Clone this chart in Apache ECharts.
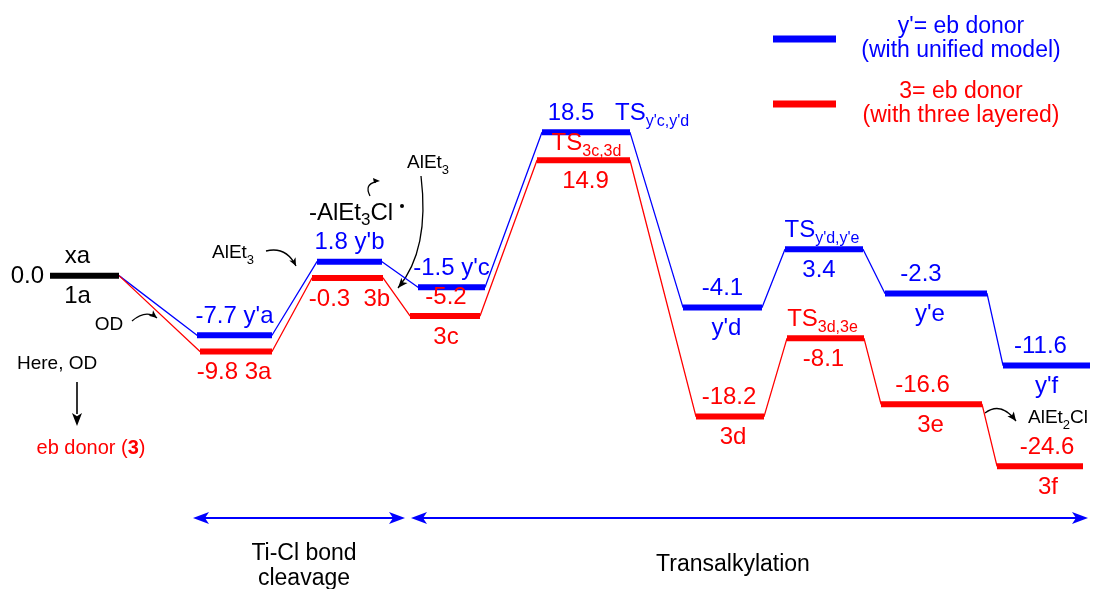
<!DOCTYPE html>
<html>
<head>
<meta charset="utf-8">
<script src="https://cdn.jsdelivr.net/npm/echarts@6/dist/echarts.min.js"></script>
<style>
  html, body { margin: 0; padding: 0; background: #fff; }
  #chart { width: 1097px; height: 589px; }
</style>
</head>
<body>
<div id="chart"></div>
<script>
// Free-energy profile (kcal/mol) of the two electron-donor models
const startNames = ['xa', '1a'];
const startEnergy = 0.0;

const blueStates = ["y'a", "y'b", "y'c", "TS_y'c,y'd", "y'd", "TS_y'd,y'e", "y'e", "y'f"];
const blueEnergy = [-7.7, 1.8, -1.5, 18.5, -4.1, 3.4, -2.3, -11.6];

const redStates = ["3a", "3b", "3c", "TS_3c,3d", "3d", "TS_3d,3e", "3e", "3f"];
const redEnergy = [-9.8, -0.3, -5.2, 14.9, -18.2, -8.1, -16.6, -24.6];

const legendNames = ["y'= eb donor\n(with unified model)", "3= eb donor\n(with three layered)"];
const stageNames = ['Ti-Cl bond\ncleavage', 'Transalkylation'];

// ---- layout: reaction-coordinate span of each level and where its labels go ----
const FONT = "'Liberation Sans', Arial, Helvetica, sans-serif";
const BLUE = '#0000ff', RED = '#ff0000', BLACK = '#000000';
const ABOVE = 19, BELOW = 21;

const startLayout = { span: [50, 119] };
const blueLayout = [
  { span: [197, 272], top: 'vn' },
  { span: [317, 382], top: 'vn' },
  { span: [418, 485], top: 'vn' },
  { span: [542, 630], top: 'v', topDx: -15, side: 'n' },
  { span: [683, 762], top: 'v', bottom: 'n', botDx: 4 },
  { span: [785, 863], top: 'n', bottom: 'v', topDx: -2, botDx: -5 },
  { span: [885, 987], top: 'v', bottom: 'n', topDx: -15, botDx: -6 },
  { span: [1003, 1090], top: 'v', bottom: 'n', topDx: -6 }
];
const redLayout = [
  { span: [200, 272], bottom: 'vn', botDx: -2 },
  { span: [312, 383], bottom: 'vn', botDx: 2, gap: '  ' },
  { span: [410, 480], top: 'v', bottom: 'n', topDx: 1, botDx: 1 },
  { span: [537, 630], top: 'n', bottom: 'v', topDx: 3, botDx: 2, topGap: 17 },
  { span: [696, 764], top: 'v', bottom: 'n', topDx: -1, botDx: 3 },
  { span: [787, 864], top: 'n', bottom: 'v', topDx: -3, botDx: -2 },
  { span: [881, 982], top: 'v', bottom: 'n', topDx: -9, botDx: -1 },
  { span: [997, 1083], top: 'v', bottom: 'n', topDx: 7, botDx: 8 }
];

// main text sits in the middle of a tall line, subscripts hang at its bottom
function richStyles(color) {
  return {
    b: { fill: color, fontSize: 24, lineHeight: 32, fontFamily: FONT, verticalAlign: 'middle' },
    s: { fill: color, fontSize: 16, lineHeight: 16, fontFamily: FONT, verticalAlign: 'bottom' }
  };
}
function richName(n) {
  const k = n.indexOf('_');
  return k < 0 ? '{b|' + n + '}' : '{b|' + n.slice(0, k) + '}{s|' + n.slice(k + 1) + '}';
}
function piece(kind, name, value, gap) {
  const v = value.toFixed(1);
  if (kind === 'v') return '{b|' + v + '}';
  if (kind === 'n') return richName(name);
  return '{b|' + v + (gap || ' ') + name + '}';
}

function levelSeries(name, color, states, energies, layout) {
  return {
    type: 'custom',
    name: name,
    coordinateSystem: 'cartesian2d',
    itemStyle: { color: color },
    encode: { x: [0, 1], y: 2 },
    z: 3,
    silent: true,
    data: energies.map((e, i) => [layout[i].span[0], layout[i].span[1], e]),
    renderItem: function (params, api) {
      const i = params.dataIndex;
      const L = layout[i];
      const e = api.value(2);
      const p0 = api.coord([api.value(0), e]);
      const p1 = api.coord([api.value(1), e]);
      const cx = (p0[0] + p1[0]) / 2;
      const rich = richStyles(color);
      const txt = (text, x, y, align) => ({
        type: 'text',
        style: { text: text, x: x, y: y, align: align || 'center', verticalAlign: 'middle', fill: color, rich: rich }
      });
      const kids = [{
        type: 'rect',
        shape: { x: p0[0], y: p0[1] - 3, width: p1[0] - p0[0], height: 6 },
        style: { fill: color }
      }];
      const up = L.topGap || ABOVE;
      if (L.top) kids.push(txt(piece(L.top, states[i], e, L.gap), cx + (L.topDx || 0), p0[1] - up));
      if (L.bottom) kids.push(txt(piece(L.bottom, states[i], e, L.gap), cx + (L.botDx || 0), p0[1] + BELOW));
      if (L.side) kids.push(txt(piece(L.side, states[i], e), p1[0] - 15, p0[1] - up, 'left'));
      return { type: 'group', children: kids };
    }
  };
}

function startSeries() {
  return {
    type: 'custom',
    name: startNames[1],
    coordinateSystem: 'cartesian2d',
    encode: { x: [0, 1], y: 2 },
    z: 3,
    silent: true,
    data: [[startLayout.span[0], startLayout.span[1], startEnergy]],
    renderItem: function (params, api) {
      const e = api.value(2);
      const p0 = api.coord([api.value(0), e]);
      const p1 = api.coord([api.value(1), e]);
      const cx = (p0[0] + p1[0]) / 2 - 7;
      const rich = richStyles(BLACK);
      const t = (text, x, y, align) => ({
        type: 'text',
        style: { text: text, x: x, y: y, align: align, verticalAlign: 'middle', fill: BLACK, rich: rich }
      });
      return {
        type: 'group',
        children: [
          { type: 'rect', shape: { x: p0[0], y: p0[1] - 3, width: p1[0] - p0[0], height: 6 }, style: { fill: BLACK } },
          t('{b|' + e.toFixed(1) + '}', p0[0] - 6, p0[1] + 1, 'right'),
          t('{b|' + startNames[0] + '}', cx, p0[1] - ABOVE, 'center'),
          t('{b|' + startNames[1] + '}', cx, p0[1] + BELOW, 'center')
        ]
      };
    }
  };
}

function connectorSeries(name, color, energies, layout) {
  const pts = [[startLayout.span[1], startEnergy]];
  energies.forEach((e, i) => {
    pts.push([layout[i].span[0], e]);
    pts.push([layout[i].span[1], e]);
  });
  return {
    type: 'line',
    name: name,
    data: pts,
    symbol: 'none',
    showSymbol: false,
    lineStyle: { color: color, width: 1.3 },
    itemStyle: { color: color },
    z: 2,
    silent: true
  };
}

// ---- annotation helpers ----
function arrowHead(tx, ty, fx, fy, len, half, color) {
  const dx = tx - fx, dy = ty - fy, d = Math.hypot(dx, dy);
  const ux = dx / d, uy = dy / d;
  const bx = tx - ux * len, by = ty - uy * len;
  const nx = tx - ux * len * 0.75, ny = ty - uy * len * 0.75;
  return {
    type: 'polygon',
    shape: { points: [[tx, ty], [bx - uy * half, by + ux * half], [nx, ny], [bx + uy * half, by - ux * half]] },
    style: { fill: color }
  };
}
function curvedArrow(x1, y1, cx, cy, x2, y2, color, w, len, half) {
  return [
    { type: 'bezierCurve', shape: { x1: x1, y1: y1, cpx1: cx, cpy1: cy, x2: x2, y2: y2 },
      style: { stroke: color, lineWidth: w, fill: null } },
    arrowHead(x2, y2, cx, cy, len, half, color)
  ];
}
function doubleArrow(xa, xb, y, color) {
  return [
    { type: 'line', shape: { x1: xa + 8, y1: y, x2: xb - 8, y2: y }, style: { stroke: color, lineWidth: 2 } },
    arrowHead(xa, y, xb, y, 16, 6, color),
    arrowHead(xb, y, xa, y, 16, 6, color)
  ];
}
function label(text, x, y, align, size, color, extra) {
  const c = color || BLACK;
  return {
    type: 'text', x: x, y: y,
    style: Object.assign({
      text: text, align: align, verticalAlign: 'middle', fill: c,
      fontSize: size, fontFamily: FONT,
      rich: {
        a: { fill: c, fontSize: size, lineHeight: size + 8, fontFamily: FONT, verticalAlign: 'middle' },
        s: { fill: c, fontSize: Math.round(size * 0.7), lineHeight: Math.round(size * 0.7), fontFamily: FONT, verticalAlign: 'bottom' },
        k: { fill: c, fontSize: size, lineHeight: size + 8, fontFamily: FONT, fontWeight: 'bold', verticalAlign: 'middle' }
      }
    }, extra || {})
  };
}

const annotations = [].concat(
  // start-point notes
  [label('Here, OD', 17, 364, 'left', 19)],
  [{ type: 'line', shape: { x1: 77, y1: 382, x2: 77, y2: 414 }, style: { stroke: BLACK, lineWidth: 1.6 } },
   arrowHead(77, 426, 77, 382, 13, 5, BLACK)],
  [label('{a|eb donor (}{k|3}{a|)}', 91, 448, 'center', 20, RED)],
  [label('OD', 109, 325, 'center', 19)],
  curvedArrow(132, 321, 146, 309, 157, 318, BLACK, 1.3, 8, 3.5),
  // Ti-Cl cleavage notes
  [label('{a|AlEt}{s|3}', 212, 253, 'left', 19)],
  curvedArrow(266, 251, 286, 246, 296, 266, BLACK, 1.3, 8, 3.5),
  [label('{a|-AlEt}{s|3}{a|Cl}', 309, 213, 'left', 24)],
  [{ type: 'bezierCurve', shape: { x1: 370, y1: 196, cpx1: 364, cpy1: 184, x2: 376, y2: 182 },
     style: { stroke: BLACK, lineWidth: 1.3, fill: null } },
   { type: 'polygon', shape: { points: [[380, 181], [373, 178], [374, 183]] }, style: { fill: BLACK } },
   { type: 'circle', shape: { cx: 402, cy: 206, r: 2 }, style: { fill: BLACK } }],
  [label('{a|AlEt}{s|3}', 407, 163, 'left', 19)],
  curvedArrow(421, 176, 430, 250, 398, 288, BLACK, 1.3, 10, 4),
  // product release
  [label('{a|AlEt}{s|2}{a|Cl}', 1028, 418, 'left', 19)],
  curvedArrow(985, 413, 1001, 401, 1016, 421, BLACK, 1.3, 9, 4),
  // stage brackets
  doubleArrow(193, 405, 518, BLUE),
  doubleArrow(411, 1088, 518, BLUE),
  [label(stageNames[0], 304, 566, 'center', 23, BLACK, { lineHeight: 25 })],
  [label(stageNames[1], 733, 565, 'center', 23)]
);

const chart = echarts.init(document.getElementById('chart'), null, { renderer: 'canvas' });
chart.setOption({
  animation: false,
  backgroundColor: '#ffffff',
  grid: { left: 0, right: 0, top: 82, bottom: 81, containLabel: false },
  xAxis: { type: 'value', min: 0, max: 1097, show: false },
  yAxis: { type: 'value', min: -30, max: 25, show: false },
  legend: {
    orient: 'vertical',
    left: 773,
    top: 15,
    padding: 0,
    itemWidth: 63,
    itemHeight: 7,
    itemGap: 17,
    icon: 'rect',
    selectedMode: false,
    data: [
      { name: legendNames[0], textStyle: { color: BLUE } },
      { name: legendNames[1], textStyle: { color: RED } }
    ],
    formatter: n => n.split('\n').map(s => '{c|' + s + '}').join('\n'),
    textStyle: {
      fontFamily: FONT, fontSize: 23, lineHeight: 24,
      rich: { c: { width: 240, align: 'center', fontFamily: FONT, fontSize: 23, lineHeight: 24 } }
    }
  },
  graphic: { elements: annotations },
  series: [
    connectorSeries(legendNames[0], BLUE, blueEnergy, blueLayout),
    connectorSeries(legendNames[1], RED, redEnergy, redLayout),
    levelSeries(legendNames[0], BLUE, blueStates, blueEnergy, blueLayout),
    levelSeries(legendNames[1], RED, redStates, redEnergy, redLayout),
    startSeries()
  ]
});
</script>
</body>
</html>
